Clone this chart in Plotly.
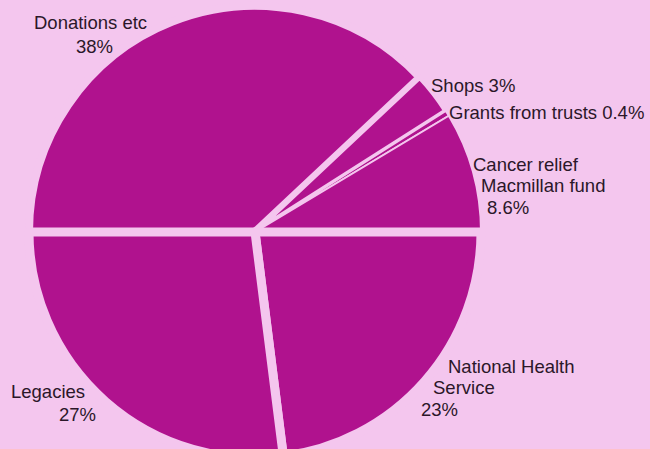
import plotly.graph_objects as go

# ---- data ----
categories = ["Donations etc", "Shops", "Grants from trusts",
              "Cancer relief Macmillan fund", "National Health Service", "Legacies"]
values = [38, 3, 0.4, 8.6, 23, 27]
# label text lines for each category ({p} = percentage)
label_lines = [
    ["Donations etc", "{p}"],
    ["Shops {p}"],
    ["Grants from trusts {p}"],
    ["Cancer relief", "Macmillan fund", "{p}"],
    ["National Health", "Service", "{p}"],
    ["Legacies", "{p}"],
]

# ---- style / layout ----
W, H = 650, 460
MT, MB = 6, 2
BG = "#F4C6EE"
SLICE = "#B0128E"
TEXT = "#2B1729"
FONT = "Liberation Sans, Arial, sans-serif"
FS = 18.5

# label positions in pixels: (x, y, xanchor) per line
label_pos = [
    [(90, 22, "center"), (94, 46, "center")],
    [(429, 85, "left")],
    [(447, 113, "left")],
    [(471, 164, "left"), (479, 186, "left"), (485, 208, "left")],
    [(446, 366, "left"), (431, 387, "left"), (419, 409, "left")],
    [(9, 391, "left"), (57, 414, "left")],
]

line_widths = [8, 5, 2, 2, 9, 9]

cx, r = 255, 226
fig = go.Figure(go.Pie(
    labels=categories,
    values=values,
    sort=False,
    direction="clockwise",
    rotation=270,
    textinfo="none",
    hoverinfo="label+percent",
    marker=dict(colors=[SLICE] * len(values),
                line=dict(color=BG, width=line_widths)),
    domain=dict(x=[(cx - r) / W, (cx + r) / W], y=[0, 1]),
    showlegend=False,
))

ph = H - MT - MB
def py(y):
    return 1 - (y - MT) / ph

ann = []
for lines, poss, v in zip(label_lines, label_pos, values):
    pct = f"{v:g}%"
    for txt, (x, y, xa) in zip(lines, poss):
        ann.append(dict(
            text=txt.format(p=pct), x=x / W, y=py(y), xref="paper", yref="paper",
            xanchor=xa, yanchor="middle", showarrow=False,
            font=dict(family=FONT, size=FS, color=TEXT),
        ))

fig.update_layout(
    width=W, height=H,
    margin=dict(l=0, r=0, t=MT, b=MB),
    paper_bgcolor=BG, plot_bgcolor=BG,
    annotations=ann,
)

fig.write_html(
    "out.html",
    post_script=("document.body.style.margin='0';"
                 "document.body.style.overflow='hidden';"
                 "document.documentElement.style.overflow='hidden';"
                 "document.body.style.background='" + BG + "';"),
)
